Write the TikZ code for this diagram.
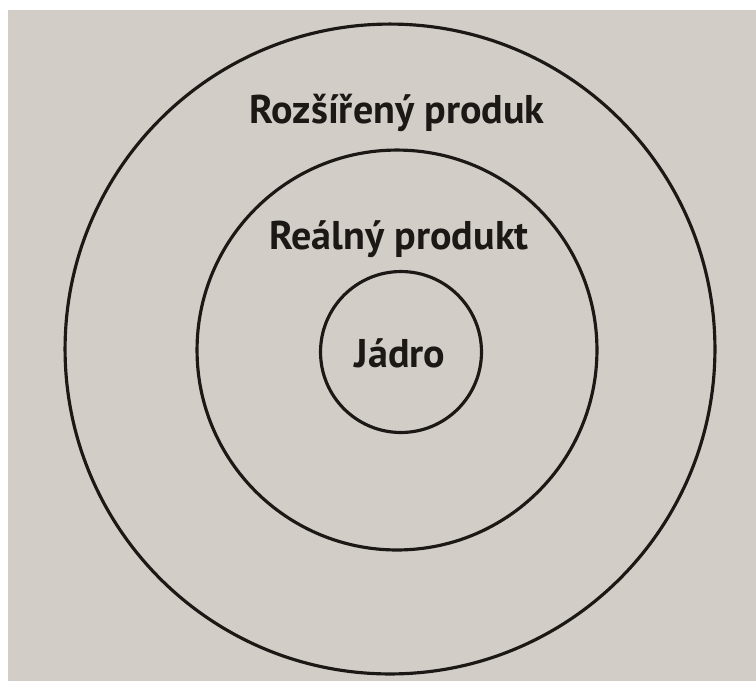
\documentclass[tikz,border=0pt]{standalone}
\usepackage{fontspec}
\setmainfont{PT Sans}
\usepackage{tikz}
\usetikzlibrary{positioning}

\definecolor{paper}{RGB}{210,205,198}
\definecolor{ink}{RGB}{28,24,22}

\begin{document}
\begin{tikzpicture}[
    x=0.02cm,
    y=-0.02cm,
    ring/.style={
        circle,
        draw=ink,
        line width=1.8pt,
        inner sep=0pt
    },
    label/.style={
        anchor=base,
        inner sep=0pt,
        text=ink,
        font=\fontsize{22.8}{27}\selectfont\bfseries
    }
]

% =============== POZADI ===============
\useasboundingbox (0,0) rectangle (756,681);
\fill[white] (0,0) rectangle (756,681);
\fill[paper] (8,10) rectangle (756,681);

% =============== KRUHY ===============
\node[ring, minimum size=13cm] (rozsireny) at (390,349) {};
\node[ring, minimum size=8cm] (realny) at (397,350) {};
\node[ring, minimum size=3.22cm] (jadro) at (401,352) {};

% =============== POPISKY ===============
\node[label] (txt_rozsireny) at (397,123) {Rozšířený produk};
\node[label] (txt_realny) at (399,249) {Reálný produkt};
\node[label] (txt_jadro) at (400,367) {Jádro};

\end{tikzpicture}
\end{document}
